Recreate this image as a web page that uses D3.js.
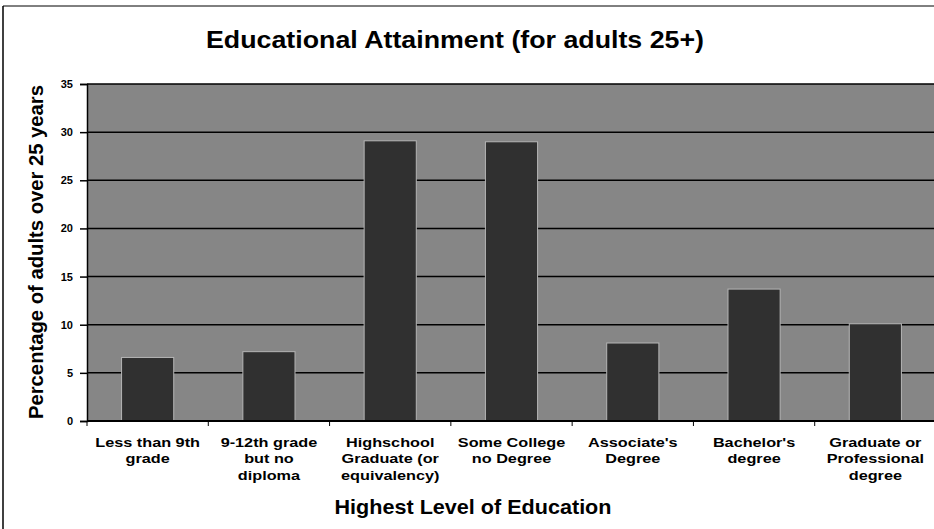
<!DOCTYPE html>
<html>
<head>
<meta charset="utf-8">
<script src="https://cdn.jsdelivr.net/npm/d3@7"></script>
<style>
  body { margin: 0; background: #fff; }
  text { font-family: "Liberation Sans", Arial, sans-serif; fill: #000; }
</style>
</head>
<body>
<svg id="chart" width="934" height="529"></svg>
<script>
const categories = [
  ["Less than 9th", "grade"],
  ["9-12th grade", "but no", "diploma"],
  ["Highschool", "Graduate (or", "equivalency)"],
  ["Some College", "no Degree"],
  ["Associate's", "Degree"],
  ["Bachelor's", "degree"],
  ["Graduate or", "Professional", "degree"]
];
const values = [6.6, 7.2, 29.1, 29.0, 8.1, 13.7, 10.1];
const yTicks = [0, 5, 10, 15, 20, 25, 30, 35];

const svg = d3.select("#chart");
const margin = {left: 87, top: 84, right: -2, bottom: 108};
const width = 934, height = 529;
const innerWidth = width - margin.left - margin.right;
const innerHeight = height - margin.top - margin.bottom;

// page frame (left + top edges only show in the scan)
svg.append("line").attr("x1", 3).attr("x2", 3).attr("y1", 6).attr("y2", 529)
   .attr("stroke", "#000").attr("stroke-width", 1.5);
svg.append("line").attr("x1", 3).attr("x2", 934).attr("y1", 6).attr("y2", 6)
   .attr("stroke", "#000").attr("stroke-width", 1);

svg.append("text")
   .attr("x", 455).attr("y", 48)
   .attr("text-anchor", "middle")
   .attr("textLength", 498).attr("lengthAdjust", "spacingAndGlyphs")
   .style("font-size", "24px").style("font-weight", "bold")
   .text("Educational Attainment (for adults 25+)");

const g = svg.append("g").attr("transform", `translate(${margin.left},${margin.top})`);

const x = d3.scaleBand()
    .domain(d3.range(categories.length))
    .range([0, innerWidth])
    .paddingInner(0.57).paddingOuter(0.285);

const y = d3.scaleLinear().domain([0, 35]).range([innerHeight, 0]);

g.append("rect")
 .attr("width", innerWidth).attr("height", innerHeight)
 .attr("fill", "#868686");

g.selectAll(".grid")
 .data(yTicks.slice(1))
 .join("line")
 .attr("x1", 0).attr("x2", innerWidth)
 .attr("y1", d => y(d)).attr("y2", d => y(d))
 .attr("stroke", "#000").attr("stroke-width", 1.5);

g.selectAll(".bar")
 .data(values)
 .join("rect")
 .attr("x", (d, i) => x(i))
 .attr("y", d => y(d))
 .attr("width", x.bandwidth())
 .attr("height", d => innerHeight - y(d))
 .attr("fill", "#303030")
 .attr("stroke", "#b5b5b5").attr("stroke-width", 1);

const yAxis = g.append("g")
  .call(d3.axisLeft(y).tickValues(yTicks).tickSize(7).tickPadding(7));
yAxis.selectAll("text").style("font-size", "11px").style("font-weight", "bold");
yAxis.selectAll("line, path").attr("stroke", "#000").attr("stroke-width", 1.5);

const bandStep = x.step();
const xEdges = d3.range(categories.length + 1).map(i => i * bandStep);
const xAxis = g.append("g").attr("transform", `translate(0,${innerHeight})`);
xAxis.append("line").attr("x1", 0).attr("x2", innerWidth)
     .attr("stroke", "#000").attr("stroke-width", 2);
xAxis.selectAll(".tk").data(xEdges).join("line")
     .attr("x1", d => d).attr("x2", d => d)
     .attr("y1", 0).attr("y2", 5)
     .attr("stroke", "#000").attr("stroke-width", 1);

// the scanned labels use a wide face, so stretch them a little
const labels = xAxis.selectAll(".lbl").data(categories).join("text")
     .attr("text-anchor", "middle")
     .attr("transform", (d, i) => `translate(${x(i) + x.bandwidth() / 2},26) scale(1.25,1)`)
     .style("font-size", "13px").style("font-weight", "bold");
labels.selectAll("tspan").data(d => d).join("tspan")
     .attr("x", 0).attr("y", (d, i) => i * 16.5)
     .text(d => d);

svg.append("text")
   .attr("x", 473).attr("y", 514)
   .attr("text-anchor", "middle")
   .attr("textLength", 277).attr("lengthAdjust", "spacingAndGlyphs")
   .style("font-size", "21px").style("font-weight", "bold")
   .text("Highest Level of Education");

svg.append("text")
   .attr("transform", "translate(43,252) rotate(-90)")
   .attr("text-anchor", "middle")
   .attr("textLength", 334).attr("lengthAdjust", "spacingAndGlyphs")
   .style("font-size", "21px")
   .style("font-weight", "bold")
   .text("Percentage of adults over 25 years");
</script>
</body>
</html>
